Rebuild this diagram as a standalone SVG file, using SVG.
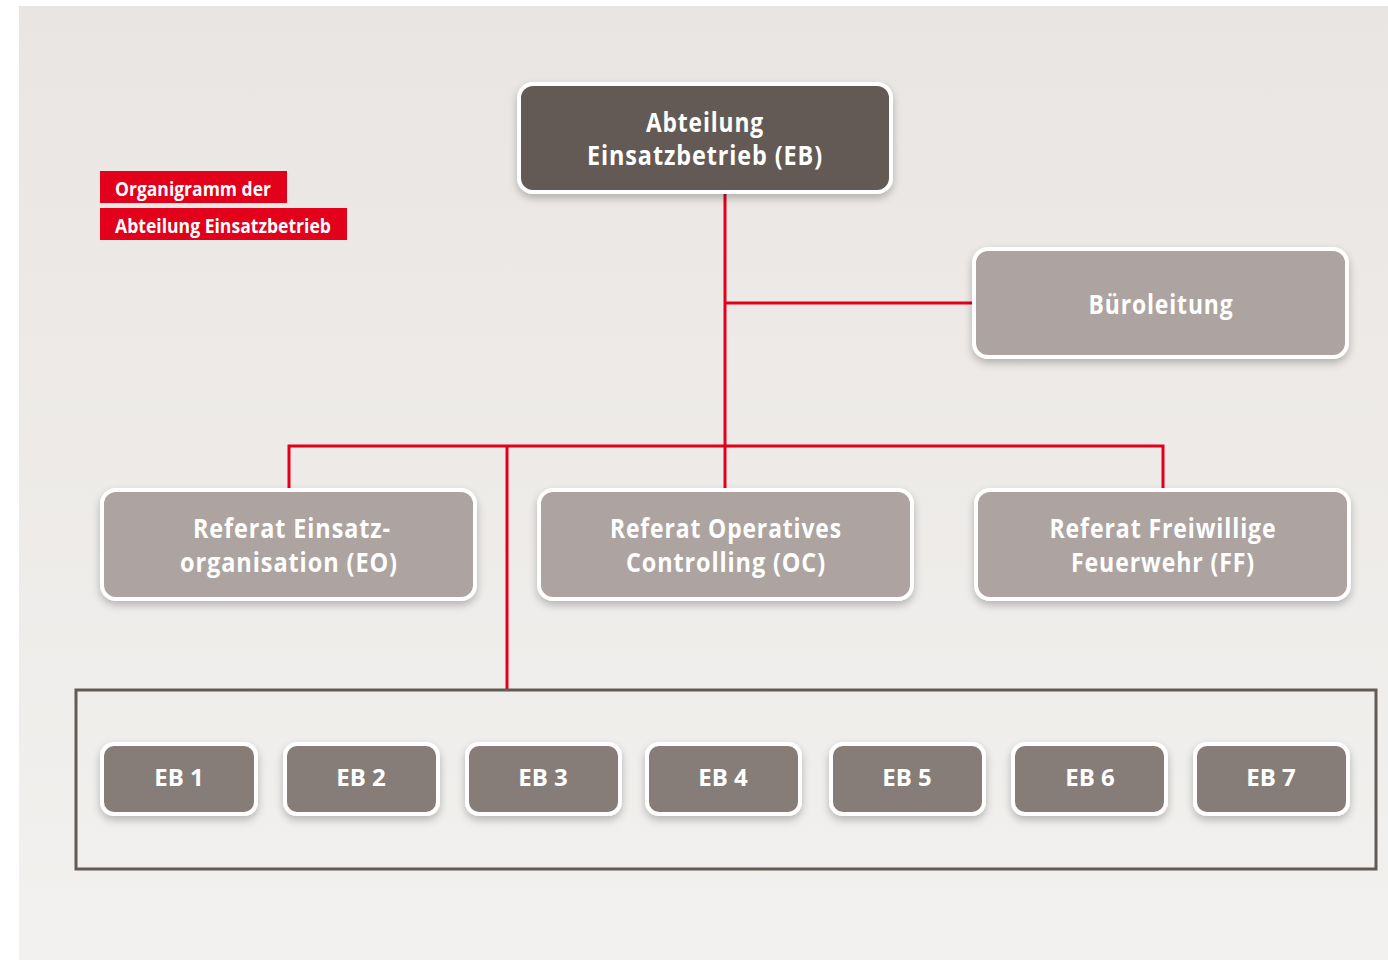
<svg xmlns="http://www.w3.org/2000/svg" width="1388" height="960" viewBox="0 0 1388 960">
<style>
.box{stroke:#fff;stroke-width:4;filter:url(#sh)}
.dark{fill:#635a54}
.mid{fill:#ada4a1}
.eb{fill:#877d78}
.t{font-family:"Open Sans","DejaVu Sans",sans-serif;font-weight:700;fill:#fff;text-anchor:middle;letter-spacing:1px}
.big{font-size:26px}
.ebt{font-size:24px;letter-spacing:0}
.lbl{font-family:"Open Sans","DejaVu Sans",sans-serif;font-weight:700;font-size:20px;fill:#fff}
.red{stroke:#e2001a;stroke-width:3;fill:none}
</style>
<defs>
<linearGradient id="bg" x1="0" y1="0" x2="0" y2="1">
<stop offset="0" stop-color="#e9e5e2"/>
<stop offset="1" stop-color="#f2f1ef"/>
</linearGradient>
<filter id="sh" x="-10%" y="-20%" width="120%" height="150%">
<feGaussianBlur in="SourceAlpha" stdDeviation="4"/>
<feOffset dx="0" dy="4" result="b"/>
<feComponentTransfer><feFuncA type="linear" slope="0.25"/></feComponentTransfer>
<feMerge><feMergeNode/><feMergeNode in="SourceGraphic"/></feMerge>
</filter>
</defs>
<rect width="1388" height="960" fill="#fff"/>
<rect x="19" y="6" width="1369" height="954" fill="url(#bg)"/>
<g id="title">
<rect x="100" y="171" width="187" height="32" fill="#e2001a"/>
<rect x="100" y="208" width="247" height="32" fill="#e2001a"/>
<text class="lbl" x="115" y="196" textLength="156" lengthAdjust="spacingAndGlyphs">Organigramm der</text>
<text class="lbl" x="115" y="233" textLength="216" lengthAdjust="spacingAndGlyphs">Abteilung Einsatzbetrieb</text>
</g>
<g id="connectors">
<polyline class="red" points="725,193 725,446"/>
<polyline class="red" points="725,303 973,303"/>
<polyline class="red" points="289,489 289,446 1163,446 1163,489"/>
<polyline class="red" points="725,446 725,489"/>
<polyline class="red" points="507,446 507,689"/>
</g>
<g id="container">
<rect x="76" y="690" width="1300" height="179" fill="none" stroke="#635a54" stroke-width="3"/>
</g>
<g id="n-eb">
<rect class="box dark" x="519" y="84" width="372" height="108" rx="14"/>
<text class="t big" x="705" y="132" textLength="118" lengthAdjust="spacingAndGlyphs">Abteilung</text>
<text class="t big" x="705" y="165" textLength="236" lengthAdjust="spacingAndGlyphs">Einsatzbetrieb (EB)</text>
</g>
<g id="n-bl">
<rect class="box mid" x="974" y="249" width="373" height="108" rx="14"/>
<text class="t big" x="1161" y="314" textLength="145" lengthAdjust="spacingAndGlyphs">Büroleitung</text>
</g>
<g id="n-eo">
<rect class="box mid" x="102" y="490" width="373" height="109" rx="14"/>
<text class="t big" x="292" y="538" textLength="198" lengthAdjust="spacingAndGlyphs">Referat Einsatz-</text>
<text class="t big" x="289" y="572" textLength="218" lengthAdjust="spacingAndGlyphs">organisation (EO)</text>
</g>
<g id="n-oc">
<rect class="box mid" x="539" y="490" width="373" height="109" rx="14"/>
<text class="t big" x="726" y="538" textLength="232" lengthAdjust="spacingAndGlyphs">Referat Operatives</text>
<text class="t big" x="726" y="572" textLength="200" lengthAdjust="spacingAndGlyphs">Controlling (OC)</text>
</g>
<g id="n-ff">
<rect class="box mid" x="976" y="490" width="373" height="109" rx="14"/>
<text class="t big" x="1163" y="538" textLength="227" lengthAdjust="spacingAndGlyphs">Referat Freiwillige</text>
<text class="t big" x="1163" y="572" textLength="184" lengthAdjust="spacingAndGlyphs">Feuerwehr (FF)</text>
</g>
<g id="n-eb1"><rect class="box eb" x="102" y="744" width="154" height="70" rx="12"/><text class="t ebt" x="179" y="786">EB 1</text></g>
<g id="n-eb2"><rect class="box eb" x="285" y="744" width="153" height="70" rx="12"/><text class="t ebt" x="361" y="786">EB 2</text></g>
<g id="n-eb3"><rect class="box eb" x="467" y="744" width="153" height="70" rx="12"/><text class="t ebt" x="543" y="786">EB 3</text></g>
<g id="n-eb4"><rect class="box eb" x="647" y="744" width="153" height="70" rx="12"/><text class="t ebt" x="723" y="786">EB 4</text></g>
<g id="n-eb5"><rect class="box eb" x="831" y="744" width="153" height="70" rx="12"/><text class="t ebt" x="907" y="786">EB 5</text></g>
<g id="n-eb6"><rect class="box eb" x="1013" y="744" width="153" height="70" rx="12"/><text class="t ebt" x="1090" y="786">EB 6</text></g>
<g id="n-eb7"><rect class="box eb" x="1195" y="744" width="153" height="70" rx="12"/><text class="t ebt" x="1271" y="786">EB 7</text></g>
</svg>
